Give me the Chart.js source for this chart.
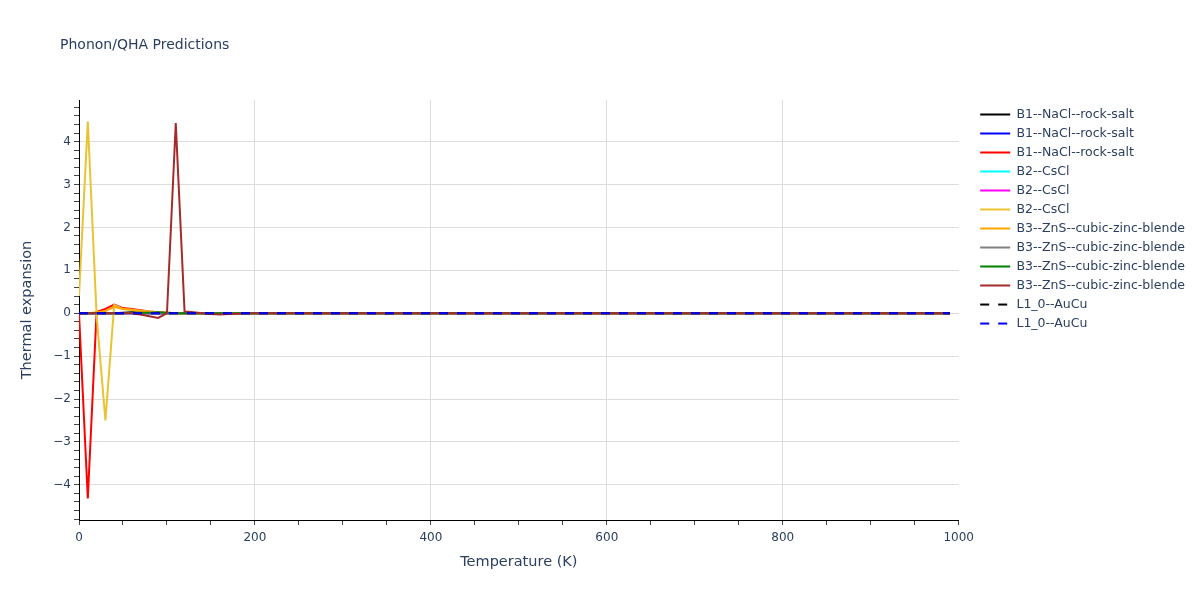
<!DOCTYPE html>
<html>
<head>
<meta charset="utf-8">
<script src="https://cdn.jsdelivr.net/npm/chart.js@4.4.1/dist/chart.umd.min.js"></script>
<style>
  html, body { margin: 0; padding: 0; background: #fff; }
  #wrap { width: 1200px; height: 600px; position: relative; }
</style>
</head>
<body>
<div id="wrap"><canvas id="myChart" width="1200" height="600"></canvas></div>
<script>
// temperatures (K), one point every 10 K
const temps = [
  0, 10, 20, 30, 40, 50, 60, 70, 80, 90, 100, 110, 120, 130, 140, 150, 160, 170, 180, 190,
  200, 210, 220, 230, 240, 250, 260, 270, 280, 290, 300, 310, 320, 330, 340, 350, 360, 370, 380, 390,
  400, 410, 420, 430, 440, 450, 460, 470, 480, 490, 500, 510, 520, 530, 540, 550, 560, 570, 580, 590,
  600, 610, 620, 630, 640, 650, 660, 670, 680, 690, 700, 710, 720, 730, 740, 750, 760, 770, 780, 790,
  800, 810, 820, 830, 840, 850, 860, 870, 880, 890, 900, 910, 920, 930, 940, 950, 960, 970, 980, 990
];

const seriesNames = [
  'B1--NaCl--rock-salt', 'B1--NaCl--rock-salt', 'B1--NaCl--rock-salt',
  'B2--CsCl', 'B2--CsCl', 'B2--CsCl',
  'B3--ZnS--cubic-zinc-blende', 'B3--ZnS--cubic-zinc-blende', 'B3--ZnS--cubic-zinc-blende', 'B3--ZnS--cubic-zinc-blende',
  'L1_0--AuCu', 'L1_0--AuCu'
];

const b1Black = [
  0, 0, 0, 0, 0, 0.01, 0.02, 0.01, 0, 0, 0, 0, 0, 0, 0, 0, 0, 0, 0, 0,
  0, 0, 0, 0, 0, 0, 0, 0, 0, 0, 0, 0, 0, 0, 0, 0, 0, 0, 0, 0,
  0, 0, 0, 0, 0, 0, 0, 0, 0, 0, 0, 0, 0, 0, 0, 0, 0, 0, 0, 0,
  0, 0, 0, 0, 0, 0, 0, 0, 0, 0, 0, 0, 0, 0, 0, 0, 0, 0, 0, 0,
  0, 0, 0, 0, 0, 0, 0, 0, 0, 0, 0, 0, 0, 0, 0, 0, 0, 0, 0, 0
];
const b1Blue = [
  0, 0, 0, 0, 0, 0, 0, 0, 0, 0, 0, 0, 0, 0, 0, 0, 0, 0, 0, 0,
  0, 0, 0, 0, 0, 0, 0, 0, 0, 0, 0, 0, 0, 0, 0, 0, 0, 0, 0, 0,
  0, 0, 0, 0, 0, 0, 0, 0, 0, 0, 0, 0, 0, 0, 0, 0, 0, 0, 0, 0,
  0, 0, 0, 0, 0, 0, 0, 0, 0, 0, 0, 0, 0, 0, 0, 0, 0, 0, 0, 0,
  0, 0, 0, 0, 0, 0, 0, 0, 0, 0, 0, 0, 0, 0, 0, 0, 0, 0, 0, 0
];
const b1Red = [
  0, -4.32, 0.03, 0.1, 0.2, 0.12, 0.1, 0.07, 0.04, 0.02, 0.01, 0, 0, 0, 0, -0.01, -0.01, 0, 0, 0,
  0, 0, 0, 0, 0, 0, 0, 0, 0, 0, 0, 0, 0, 0, 0, 0, 0, 0, 0, 0,
  0, 0, 0, 0, 0, 0, 0, 0, 0, 0, 0, 0, 0, 0, 0, 0, 0, 0, 0, 0,
  0, 0, 0, 0, 0, 0, 0, 0, 0, 0, 0, 0, 0, 0, 0, 0, 0, 0, 0, 0,
  0, 0, 0, 0, 0, 0, 0, 0, 0, 0, 0, 0, 0, 0, 0, 0, 0, 0, 0, 0
];
const b2Cyan = [
  0, 0, 0, 0, 0, 0, 0, 0, 0, 0, 0, 0, 0, 0, 0, 0, 0, 0, 0, 0,
  0, 0, 0, 0, 0, 0, 0, 0, 0, 0, 0, 0, 0, 0, 0, 0, 0, 0, 0, 0,
  0, 0, 0, 0, 0, 0, 0, 0, 0, 0, 0, 0, 0, 0, 0, 0, 0, 0, 0, 0,
  0, 0, 0, 0, 0, 0, 0, 0, 0, 0, 0, 0, 0, 0, 0, 0, 0, 0, 0, 0,
  0, 0, 0, 0, 0, 0, 0, 0, 0, 0, 0, 0, 0, 0, 0, 0, 0, 0, 0, 0
];
const b2Magenta = [
  0, 0, 0, 0, 0, 0, 0, 0, 0, 0, 0, 0, 0, 0, 0, 0, 0, 0, 0, 0,
  0, 0, 0, 0, 0, 0, 0, 0, 0, 0, 0, 0, 0, 0, 0, 0, 0, 0, 0, 0,
  0, 0, 0, 0, 0, 0, 0, 0, 0, 0, 0, 0, 0, 0, 0, 0, 0, 0, 0, 0,
  0, 0, 0, 0, 0, 0, 0, 0, 0, 0, 0, 0, 0, 0, 0, 0, 0, 0, 0, 0,
  0, 0, 0, 0, 0, 0, 0, 0, 0, 0, 0, 0, 0, 0, 0, 0, 0, 0, 0, 0
];
const b2Yellow = [
  0.4, 4.47, -0.05, -2.5, 0.19, 0.1, 0.08, 0.06, 0.04, 0.02, 0.01, 0, 0, 0, 0, 0, 0, 0, 0, 0,
  0, 0, 0, 0, 0, 0, 0, 0, 0, 0, 0, 0, 0, 0, 0, 0, 0, 0, 0, 0,
  0, 0, 0, 0, 0, 0, 0, 0, 0, 0, 0, 0, 0, 0, 0, 0, 0, 0, 0, 0,
  0, 0, 0, 0, 0, 0, 0, 0, 0, 0, 0, 0, 0, 0, 0, 0, 0, 0, 0, 0,
  0, 0, 0, 0, 0, 0, 0, 0, 0, 0, 0, 0, 0, 0, 0, 0, 0, 0, 0, 0
];
const b3Orange = [
  0, 0, 0.02, 0.05, 0.15, 0.1, 0.08, 0.05, 0.03, 0.01, 0, 0, 0, 0, 0, 0, 0, 0, 0, 0,
  0, 0, 0, 0, 0, 0, 0, 0, 0, 0, 0, 0, 0, 0, 0, 0, 0, 0, 0, 0,
  0, 0, 0, 0, 0, 0, 0, 0, 0, 0, 0, 0, 0, 0, 0, 0, 0, 0, 0, 0,
  0, 0, 0, 0, 0, 0, 0, 0, 0, 0, 0, 0, 0, 0, 0, 0, 0, 0, 0, 0,
  0, 0, 0, 0, 0, 0, 0, 0, 0, 0, 0, 0, 0, 0, 0, 0, 0, 0, 0, 0
];
const b3Gray = [
  0, 0, 0, 0, 0, 0, 0, 0, 0, 0, 0, 0, 0, 0, 0, 0, 0, 0, 0, 0,
  0, 0, 0, 0, 0, 0, 0, 0, 0, 0, 0, 0, 0, 0, 0, 0, 0, 0, 0, 0,
  0, 0, 0, 0, 0, 0, 0, 0, 0, 0, 0, 0, 0, 0, 0, 0, 0, 0, 0, 0,
  0, 0, 0, 0, 0, 0, 0, 0, 0, 0, 0, 0, 0, 0, 0, 0, 0, 0, 0, 0,
  0, 0, 0, 0, 0, 0, 0, 0, 0, 0, 0, 0, 0, 0, 0, 0, 0, 0, 0, 0
];
const b3Green = [
  0, 0, 0, 0, 0, 0, 0.01, 0.01, 0.01, 0.02, 0.01, 0, 0, 0, 0, 0, 0, 0, 0, 0,
  0, 0, 0, 0, 0, 0, 0, 0, 0, 0, 0, 0, 0, 0, 0, 0, 0, 0, 0, 0,
  0, 0, 0, 0, 0, 0, 0, 0, 0, 0, 0, 0, 0, 0, 0, 0, 0, 0, 0, 0,
  0, 0, 0, 0, 0, 0, 0, 0, 0, 0, 0, 0, 0, 0, 0, 0, 0, 0, 0, 0,
  0, 0, 0, 0, 0, 0, 0, 0, 0, 0, 0, 0, 0, 0, 0, 0, 0, 0, 0, 0
];
const b3Brown = [
  0, 0, 0, 0, 0, 0, 0, -0.03, -0.07, -0.11, 0, 4.43, 0.04, 0.02, 0, -0.02, -0.03, -0.02, -0.01, 0,
  0, 0, 0, 0, 0, 0, 0, 0, 0, 0, 0, 0, 0, 0, 0, 0, 0, 0, 0, 0,
  0, 0, 0, 0, 0, 0, 0, 0, 0, 0, 0, 0, 0, 0, 0, 0, 0, 0, 0, 0,
  0, 0, 0, 0, 0, 0, 0, 0, 0, 0, 0, 0, 0, 0, 0, 0, 0, 0, 0, 0,
  0, 0, 0, 0, 0, 0, 0, 0, 0, 0, 0, 0, 0, 0, 0, 0, 0, 0, 0, 0
];
const l10Black = [
  0, 0, 0, 0, 0, 0, 0, 0, 0, 0, 0, 0, 0, 0, 0, 0, 0, 0, 0, 0,
  0, 0, 0, 0, 0, 0, 0, 0, 0, 0, 0, 0, 0, 0, 0, 0, 0, 0, 0, 0,
  0, 0, 0, 0, 0, 0, 0, 0, 0, 0, 0, 0, 0, 0, 0, 0, 0, 0, 0, 0,
  0, 0, 0, 0, 0, 0, 0, 0, 0, 0, 0, 0, 0, 0, 0, 0, 0, 0, 0, 0,
  0, 0, 0, 0, 0, 0, 0, 0, 0, 0, 0, 0, 0, 0, 0, 0, 0, 0, 0, 0
];
const l10Blue = [
  0, 0, 0, 0, 0, 0, 0, 0, 0, 0, 0, 0, 0, 0, 0, 0, 0, 0, 0, 0,
  0, 0, 0, 0, 0, 0, 0, 0, 0, 0, 0, 0, 0, 0, 0, 0, 0, 0, 0, 0,
  0, 0, 0, 0, 0, 0, 0, 0, 0, 0, 0, 0, 0, 0, 0, 0, 0, 0, 0, 0,
  0, 0, 0, 0, 0, 0, 0, 0, 0, 0, 0, 0, 0, 0, 0, 0, 0, 0, 0, 0,
  0, 0, 0, 0, 0, 0, 0, 0, 0, 0, 0, 0, 0, 0, 0, 0, 0, 0, 0, 0
];

const seriesValues = [b1Black, b1Blue, b1Red, b2Cyan, b2Magenta, b2Yellow,
  b3Orange, b3Gray, b3Green, b3Brown, l10Black, l10Blue];
const seriesColors = ['#000000', '#0000ff', '#ff0000', '#00ffff', '#ff00ff', 'rgb(235,195,50)',
  '#ffa500', '#808080', '#008000', '#a52a2a', '#000000', '#0000ff'];
const seriesDash = [[], [], [], [], [], [], [], [], [], [], [9, 9], [9, 9]];

const textColor = '#2a3f5f';
const fontFamily = '"DejaVu Sans", Verdana, sans-serif';

const datasets = seriesValues.map(function (vals, i) {
  return {
    label: seriesNames[i],
    data: vals.map(function (v, j) { return {x: temps[j], y: v}; }),
    borderColor: seriesColors[i],
    backgroundColor: seriesColors[i],
    borderWidth: 2,
    borderDash: seriesDash[i],
    pointRadius: 0,
    tension: 0,
    fill: false,
    order: seriesValues.length - i   // later traces drawn on top
  };
});

const plotTitle = {
  id: 'plotTitle',
  afterDraw: function (chart) {
    const c = chart.ctx;
    c.save();
    c.font = '14px ' + fontFamily;
    c.fillStyle = textColor;
    c.textBaseline = 'middle';
    c.fillText('Phonon/QHA Predictions', 60, 45);
    c.restore();
  }
};

const isWhole = function (v, step) {
  return Math.abs(v / step - Math.round(v / step)) < 1e-6;
};

const ctx = document.getElementById('myChart');

const chart = new Chart(ctx, {
  type: 'line',
  data: { datasets: datasets },
  plugins: [plotTitle],
  options: {
    responsive: false,
    animation: false,
    layout: { padding: { top: 100, left: 10, right: 5, bottom: 25 } },
    plugins: {
      title: { display: false },
      tooltip: { enabled: false },
      legend: {
        position: 'right',
        align: 'start',
        title: { display: true, text: ' ', font: { size: 1.5 }, padding: 0 },
        labels: {
          usePointStyle: true,
          pointStyle: 'line',
          pointStyleWidth: 30,
          boxHeight: 12,
          padding: 6.5,
          color: textColor,
          font: { family: fontFamily, size: 12.5 },
          sort: function (a, b) { return a.datasetIndex - b.datasetIndex; },
          generateLabels: function (chart) {
            const items = Chart.defaults.plugins.legend.labels.generateLabels(chart);
            items.forEach(function (it) {
              const ds = chart.data.datasets[it.datasetIndex];
              it.lineDash = ds.borderDash;
              it.lineWidth = 2;
              it.strokeStyle = ds.borderColor;
            });
            return items;
          }
        }
      }
    },
    scales: {
      x: {
        type: 'linear',
        min: 0,
        max: 1000,
        afterFit: function (s) { s.height = 55; },
        ticks: {
          stepSize: 50,
          autoSkip: false,
          maxRotation: 0,
          padding: 6,
          color: textColor,
          font: { family: fontFamily, size: 12 },
          callback: function (v) { return isWhole(v, 200) ? String(Math.round(v)) : ''; }
        },
        grid: {
          tickLength: 5,
          tickColor: '#444',
          color: function (c) {
            const v = c.tick ? c.tick.value : 0;
            return (isWhole(v, 200) && v > 0 && v < 1000) ? '#dddddd' : 'rgba(0,0,0,0)';
          }
        },
        border: { display: true, color: '#000', width: 1 },
        title: {
          display: true,
          text: 'Temperature (K)',
          color: textColor,
          font: { family: fontFamily, size: 14.5 },
          padding: { top: 9, bottom: 4 }
        }
      },
      y: {
        type: 'linear',
        min: -4.82,
        max: 4.97,
        afterFit: function (s) { s.width = 69; },
        ticks: {
          stepSize: 0.2,
          includeBounds: false,
          autoSkip: false,
          padding: 3,
          color: textColor,
          font: { family: fontFamily, size: 12 },
          callback: function (v) {
            if (!isWhole(v, 1)) return '';
            const n = Math.round(v);
            return n < 0 ? '\u2212' + Math.abs(n) : String(n);
          }
        },
        grid: {
          tickLength: 5,
          tickColor: '#444',
          color: function (c) {
            const v = c.tick ? c.tick.value : 0.5;
            return isWhole(v, 1) ? '#dddddd' : 'rgba(0,0,0,0)';
          }
        },
        border: { display: true, color: '#000', width: 1 },
        title: {
          display: true,
          text: 'Thermal expansion',
          color: textColor,
          font: { family: fontFamily, size: 14.5 },
          padding: { top: 9, bottom: 4 }
        }
      },
      gap: {
        type: 'linear',
        position: 'right',
        display: false,
        afterFit: function (s) { s.width = 15; }
      }
    }
  }
});
</script>
</body>
</html>
